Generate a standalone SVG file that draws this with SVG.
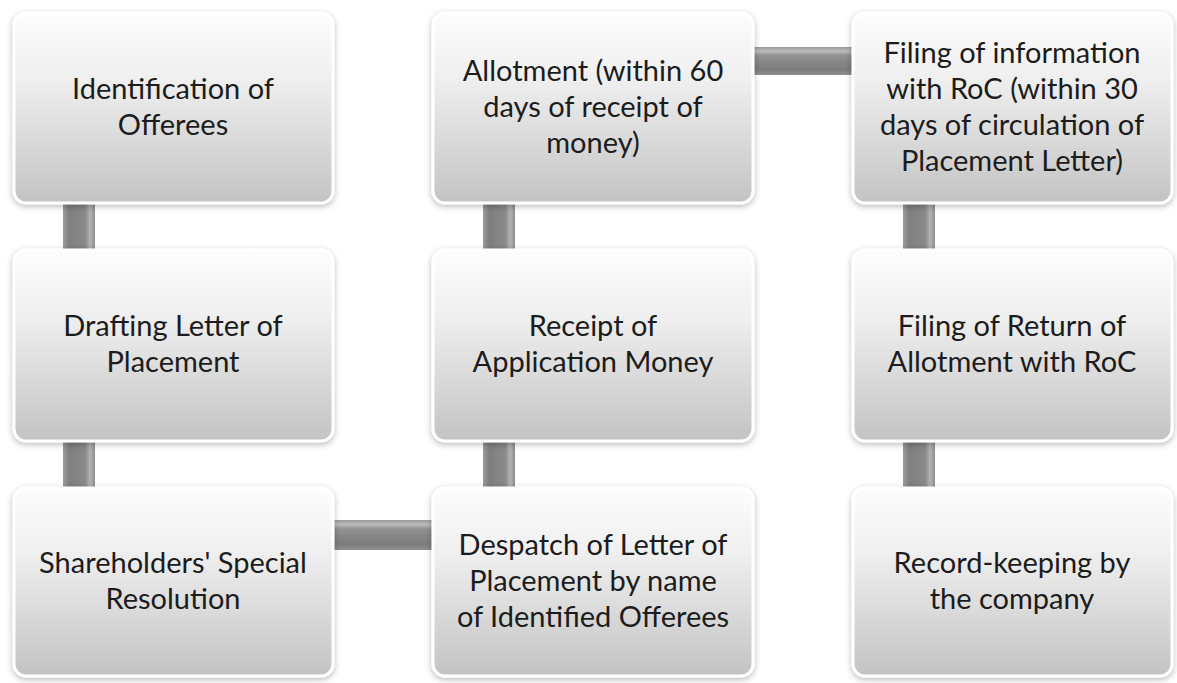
<svg xmlns="http://www.w3.org/2000/svg" width="1177" height="683" viewBox="0 0 1177 683">
<defs>
<linearGradient id="boxFill" x1="0" y1="0" x2="0" y2="1">
<stop offset="0" stop-color="#fdfdfd"/>
<stop offset="0.35" stop-color="#efefef"/>
<stop offset="1" stop-color="#c3c3c3"/>
</linearGradient>
<linearGradient id="vBar" x1="0" y1="0" x2="1" y2="0">
<stop offset="0" stop-color="#9c9c9c"/>
<stop offset="0.2" stop-color="#7e7e7e"/>
<stop offset="0.7" stop-color="#8a8a8a"/>
<stop offset="0.85" stop-color="#b4b4b4"/>
<stop offset="1" stop-color="#8c8c8c"/>
</linearGradient>
<linearGradient id="hBar" x1="0" y1="0" x2="0" y2="1">
<stop offset="0" stop-color="#9a9a9a"/>
<stop offset="0.15" stop-color="#bdbdbd"/>
<stop offset="0.3" stop-color="#929292"/>
<stop offset="0.8" stop-color="#7c7c7c"/>
<stop offset="1" stop-color="#909090"/>
</linearGradient>
<filter id="shadow" x="-5%" y="-5%" width="110%" height="115%">
<feDropShadow dx="0" dy="2" stdDeviation="3" flood-color="#000" flood-opacity="0.28"/>
</filter>
</defs>
<style>
.box{fill:url(#boxFill);stroke:#ffffff;stroke-width:3;filter:url(#shadow)}
.vb{fill:url(#vBar)}
.hb{fill:url(#hBar)}
text{font-family:Lato,"Open Sans","Liberation Sans",sans-serif;font-size:29px;fill:#1c1c1c;text-anchor:middle}
</style>
<rect width="1177" height="683" fill="#ffffff"/>
<g id="connectors">
<rect class="vb" x="63" y="200" width="32" height="53"/>
<rect class="vb" x="63" y="438" width="32" height="53"/>
<rect class="vb" x="483" y="200" width="32" height="53"/>
<rect class="vb" x="483" y="438" width="32" height="53"/>
<rect class="vb" x="903" y="200" width="32" height="53"/>
<rect class="vb" x="903" y="438" width="32" height="53"/>
<rect class="hb" x="750" y="47" width="106" height="28"/>
<rect class="hb" x="330" y="520" width="106" height="30"/>
</g>
<g id="n1"><rect class="box" x="14" y="13" width="319" height="190" rx="12"/>
<text x="173" y="99">Identification of</text><text x="173" y="135">Offerees</text></g>
<g id="n2"><rect class="box" x="14" y="250" width="319" height="191" rx="12"/>
<text x="173" y="336">Drafting Letter of</text><text x="173" y="372">Placement</text></g>
<g id="n3"><rect class="box" x="14" y="488" width="319" height="188" rx="12"/>
<text x="173" y="573">Shareholders' Special</text><text x="173" y="609">Resolution</text></g>
<g id="n4"><rect class="box" x="433" y="488" width="320" height="188" rx="12"/>
<text x="593" y="555">Despatch of Letter of</text><text x="593" y="591">Placement by name</text><text x="593" y="627">of Identified Offerees</text></g>
<g id="n5"><rect class="box" x="433" y="250" width="320" height="191" rx="12"/>
<text x="593" y="336">Receipt of</text><text x="593" y="372">Application Money</text></g>
<g id="n6"><rect class="box" x="433" y="13" width="320" height="190" rx="12"/>
<text x="593" y="81">Allotment (within 60</text><text x="593" y="117">days of receipt of</text><text x="593" y="153">money)</text></g>
<g id="n7"><rect class="box" x="853" y="13" width="319" height="190" rx="12"/>
<text x="1012" y="63">Filing of information</text><text x="1012" y="99">with RoC (within 30</text><text x="1012" y="135">days of circulation of</text><text x="1012" y="171">Placement Letter)</text></g>
<g id="n8"><rect class="box" x="853" y="250" width="319" height="191" rx="12"/>
<text x="1012" y="336">Filing of Return of</text><text x="1012" y="372">Allotment with RoC</text></g>
<g id="n9"><rect class="box" x="853" y="488" width="319" height="188" rx="12"/>
<text x="1012" y="573">Record-keeping by</text><text x="1012" y="609">the company</text></g>
</svg>
